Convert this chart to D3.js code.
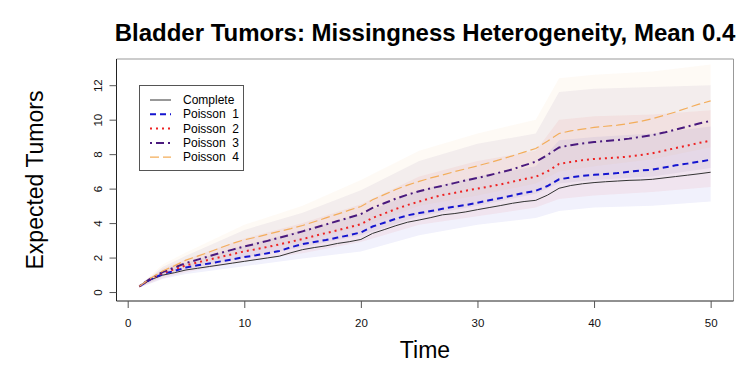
<!DOCTYPE html>
<html><head><meta charset="utf-8">
<script src="https://cdn.jsdelivr.net/npm/d3@7/dist/d3.min.js"></script>
<style>body{margin:0;background:#fff}svg{display:block}text{font-family:"Liberation Sans",Arial,sans-serif}</style>
</head><body><svg id="c" width="750" height="375"></svg>
<script>
const time = d3.range(1, 51);
const complete = [0.33,0.72,0.98,1.12,1.28,1.38,1.48,1.58,1.68,1.78,1.88,1.98,2.08,2.28,2.46,2.58,2.68,2.82,2.92,3.05,3.40,3.62,3.85,4.05,4.18,4.32,4.48,4.55,4.65,4.78,4.90,5.02,5.15,5.25,5.32,5.62,6.02,6.18,6.28,6.35,6.40,6.44,6.48,6.50,6.54,6.62,6.70,6.78,6.86,6.95];
const poisson1 = [0.33,0.75,1.05,1.22,1.42,1.55,1.66,1.78,1.90,2.03,2.13,2.25,2.38,2.60,2.78,2.90,3.02,3.16,3.30,3.46,3.80,4.02,4.25,4.45,4.58,4.70,4.83,4.95,5.05,5.18,5.32,5.45,5.60,5.75,5.87,6.15,6.54,6.65,6.74,6.80,6.85,6.90,6.98,7.05,7.10,7.22,7.35,7.45,7.56,7.68];
const poisson2 = [0.33,0.78,1.10,1.32,1.55,1.72,1.88,2.04,2.20,2.36,2.48,2.62,2.76,2.92,3.07,3.25,3.42,3.58,3.76,3.94,4.30,4.55,4.82,5.05,5.25,5.45,5.63,5.75,5.88,6.00,6.12,6.25,6.40,6.55,6.69,7.00,7.43,7.55,7.65,7.72,7.76,7.80,7.86,7.95,8.05,8.20,8.35,8.50,8.65,8.78];
const poisson3 = [0.33,0.80,1.16,1.42,1.68,1.88,2.08,2.28,2.46,2.65,2.80,2.97,3.15,3.33,3.52,3.72,3.92,4.12,4.32,4.52,4.88,5.15,5.42,5.65,5.85,6.02,6.16,6.32,6.48,6.62,6.78,6.95,7.12,7.35,7.56,7.95,8.39,8.52,8.62,8.70,8.76,8.82,8.90,9.00,9.10,9.25,9.42,9.60,9.78,9.93];
const poisson4 = [0.33,0.82,1.22,1.52,1.85,2.08,2.32,2.58,2.82,3.03,3.18,3.35,3.52,3.68,3.86,4.08,4.30,4.52,4.75,4.96,5.35,5.65,5.95,6.20,6.42,6.62,6.79,6.98,7.15,7.32,7.50,7.70,7.90,8.12,8.33,8.75,9.20,9.35,9.45,9.55,9.62,9.68,9.78,9.90,10.05,10.25,10.45,10.68,10.90,11.09];

// confidence bands, read at sparse times
const bandTime = [1,3,5,10,15,20,25,30,35,37,40,45,50];
const p1Lower = [0.25,0.75,1.05,1.50,1.95,2.35,3.30,3.90,4.30,4.70,4.90,5.00,5.25];
const p1Upper = [0.35,1.25,1.70,2.70,3.60,4.50,5.90,6.70,7.30,8.80,9.00,9.20,9.60];
const p2Lower = [0.26,0.80,1.15,1.75,2.25,2.90,3.90,4.40,4.90,5.40,5.60,5.80,6.10];
const p2Upper = [0.36,1.35,1.90,3.10,4.00,5.10,6.70,7.60,8.20,10.00,10.20,10.30,10.55];
const p3Lower = [0.28,0.90,1.30,2.00,2.60,3.30,4.40,5.00,5.70,6.30,6.50,6.70,7.20];
const p3Upper = [0.38,1.45,2.10,3.60,4.60,5.90,7.60,8.60,9.20,11.60,11.80,11.90,12.00];
const p4Lower = [0.28,0.95,1.40,2.30,2.90,3.80,5.00,5.60,6.30,7.00,7.30,7.70,8.40];
const p4Upper = [0.40,1.60,2.30,3.90,5.00,6.50,8.20,9.20,10.00,12.40,12.60,12.80,13.20];

const xTicks = [0,10,20,30,40,50];
const yTicks = [0,2,4,6,8,10,12];
const legendLabels = ["Complete","Poisson  1","Poisson  2","Poisson  3","Poisson  4"];

const svg = d3.select("#c");
const L = 116.5, R = 733.5, T = 59, B = 301;
const x = d3.scaleLinear().domain([1 - 0.04*49, 50 + 0.04*49]).range([L, R]);
const y = d3.scaleLinear().domain([0 - 0.04*13, 13 + 0.04*13]).range([B, T]);

const series = [
  {vals: complete, color:"#333333", width:1, dash:null},
  {vals: poisson1, color:"#1515d0", width:2, dash:"6,4", lo:p1Lower, hi:p1Upper},
  {vals: poisson2, color:"#ee2222", width:2, dash:"2,4", lo:p2Lower, hi:p2Upper},
  {vals: poisson3, color:"#4a1a7e", width:2, dash:"2,4,8,4", lo:p3Lower, hi:p3Upper},
  {vals: poisson4, color:"#f3ad5a", width:1.2, dash:"9,4", lo:p4Lower, hi:p4Upper}
];

const area = d3.area().x(d=>x(d.t)).y0(d=>y(d.lo)).y1(d=>y(d.hi));
series.slice(1).forEach(s=>{
  const pts = bandTime.map((t,i)=>({t, lo:s.lo[i], hi:s.hi[i]}));
  svg.append("path").attr("d", area(pts)).attr("fill", s.color).attr("fill-opacity", 0.06);
});

const line = d3.line().x((d,i)=>x(time[i])).y(d=>y(d));
series.forEach(s=>{
  svg.append("path").attr("d", line(s.vals)).attr("fill","none")
    .attr("stroke", s.color).attr("stroke-width", s.width)
    .attr("stroke-dasharray", s.dash);
});

// box
svg.append("line").attr("x1",L).attr("x2",R).attr("y1",T).attr("y2",T).attr("stroke","#999");
svg.append("line").attr("x1",R).attr("x2",R).attr("y1",T).attr("y2",B).attr("stroke","#999");

const xAxis = svg.append("g").attr("transform",`translate(0,${B})`)
  .call(d3.axisBottom(x).tickValues(xTicks).tickSize(7).tickPadding(11).tickSizeOuter(0));
xAxis.select(".domain").attr("d", `M${L},0H${R}`).attr("stroke","#222");
xAxis.selectAll(".tick line").attr("stroke","#555");
xAxis.selectAll("text").attr("font-size", 11.5).attr("fill","#111").attr("font-family","Liberation Sans, Arial, sans-serif");

const yAxis = svg.append("g").attr("transform",`translate(${L},0)`)
  .call(d3.axisLeft(y).tickValues(yTicks).tickSize(7).tickSizeOuter(0));
yAxis.select(".domain").attr("d", `M0,${T}V${B}`).attr("stroke","#222");
yAxis.selectAll(".tick line").attr("stroke","#555");
yAxis.selectAll("text").attr("font-size", 11.5).attr("fill","#111")
  .attr("font-family","Liberation Sans, Arial, sans-serif")
  .attr("x", null).attr("dy", null).attr("text-anchor","middle")
  .attr("transform","translate(-15,0) rotate(-90)");

svg.append("text").attr("x", (L+R)/2).attr("y", 41).attr("text-anchor","middle")
  .attr("font-size", 24).attr("font-weight","bold").attr("fill","#000")
  .text("Bladder Tumors: Missingness Heterogeneity, Mean 0.4");
svg.append("text").attr("x", (L+R)/2).attr("y", 358).attr("text-anchor","middle")
  .attr("font-size", 23).attr("fill","#000").text("Time");
svg.append("text").attr("transform", `translate(43,${(T+B)/2}) rotate(-90)`).attr("text-anchor","middle")
  .attr("font-size", 23).attr("fill","#000").text("Expected Tumors");

// legend
const lg = svg.append("g");
lg.append("rect").attr("x",139.5).attr("y",85.5).attr("width",104).attr("height",85)
  .attr("fill","#fff").attr("stroke","#555");
series.forEach((s,i)=>{
  const yy = 100 + i*14.3;
  lg.append("line").attr("x1",150).attr("x2",171).attr("y1",yy).attr("y2",yy)
    .attr("stroke",s.color).attr("stroke-width",s.width).attr("stroke-dasharray",s.dash);
  lg.append("text").attr("x",183).attr("y",yy+4).attr("font-size",12).attr("fill","#000")
    .attr("xml:space","preserve").style("white-space","pre").text(legendLabels[i]);
});
</script></body></html>
